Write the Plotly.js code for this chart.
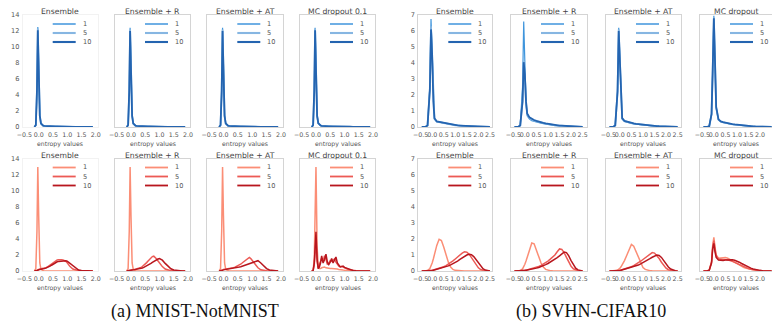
<!DOCTYPE html>
<html><head><meta charset="utf-8">
<script src="https://cdn.plot.ly/plotly-3.0.1.min.js"></script>
<style>html,body{margin:0;padding:0;background:#fff}#chart{width:772px;height:325px}</style>
</head><body><div id="chart"></div>
<script>
// ---------- labels ----------
const panelTitlesA = ['Ensemble', 'Ensemble + R', 'Ensemble + AT', 'MC dropout 0.1'];
const panelTitlesB = ['Ensemble', 'Ensemble + R', 'Ensemble + AT', 'MC dropout'];
const seriesNames = ['1', '5', '10'];
const captions = ['(a) MNIST-NotMNIST', '(b) SVHN-CIFAR10'];
const xAxisLabel = 'entropy values';
const xTicksA = [-0.5, 0, 0.5, 1, 1.5, 2];
const xTicksB = [-0.5, 0, 0.5, 1, 1.5, 2, 2.5];
const yTicksA = [0, 2, 4, 6, 8, 10, 12, 14];
const yTicksB = [0, 1, 2, 3, 4, 5, 6, 7];

// ---------- entropy grids ----------
const entropyA = [-0.15,-0.1,-0.06,-0.03,0, 0.04,0.08,0.12,0.16,0.2, 0.25,0.3,0.35,0.4,0.45, 0.5,0.55,0.6,0.65,0.7,
                  0.75,0.8,0.85,0.9,0.95, 1.0,1.1,1.2,1.3,1.4, 1.5,1.6,1.7,1.8,1.9];
const entropyB = [-0.45,-0.3,-0.2,-0.1,-0.05, 0,0.05,0.1,0.2,0.3, 0.4,0.5,0.6,0.7,0.8, 0.9,1.0,1.1,1.2,1.3,
                  1.4,1.5,1.6,1.7,1.8, 1.9,2.0,2.1,2.2,2.3, 2.4,2.5];

// ---------- (a) MNIST (in-distribution, top row); densities for ensemble size 1, 5, 10 ----------
const aInEns = [
  [0,0.2,4,12.5,8, 1.5,0.4,0.2,0.15,0.12, 0.1,0.09,0.08,0.08,0.07, 0.07,0.06,0.06,0.05,0.05, 0.05,0.04,0.04,0.04,0.03, 0.03,0.03,0.02,0.02,0.02, 0.01,0.01,0.01,0,0],
  [0,0.2,4.3,12.3,7.6, 1.4,0.4,0.2,0.15,0.12, 0.1,0.09,0.08,0.08,0.07, 0.07,0.06,0.06,0.05,0.05, 0.05,0.04,0.04,0.04,0.03, 0.03,0.03,0.02,0.02,0.02, 0.01,0.01,0.01,0,0],
  [0,0.25,4.6,12.1,7.3, 1.4,0.45,0.22,0.16,0.13, 0.11,0.1,0.09,0.08,0.08, 0.07,0.07,0.06,0.06,0.05, 0.05,0.05,0.04,0.04,0.04, 0.03,0.03,0.02,0.02,0.02, 0.01,0.01,0.01,0,0]
];
const aInEnsR = [
  [0,0.2,4,12.4,8, 1.5,0.4,0.2,0.15,0.12, 0.1,0.09,0.08,0.08,0.07, 0.07,0.06,0.06,0.05,0.05, 0.05,0.04,0.04,0.04,0.03, 0.03,0.03,0.02,0.02,0.02, 0.01,0.01,0.01,0,0],
  [0,0.2,4.3,12.2,7.6, 1.4,0.4,0.2,0.15,0.12, 0.1,0.09,0.08,0.08,0.07, 0.07,0.06,0.06,0.05,0.05, 0.05,0.04,0.04,0.04,0.03, 0.03,0.03,0.02,0.02,0.02, 0.01,0.01,0.01,0,0],
  [0,0.25,4.6,12.0,7.3, 1.4,0.45,0.22,0.16,0.13, 0.11,0.1,0.09,0.08,0.08, 0.07,0.07,0.06,0.06,0.05, 0.05,0.05,0.04,0.04,0.04, 0.03,0.03,0.02,0.02,0.02, 0.01,0.01,0.01,0,0]
];
const aInEnsAT = [
  [0,0.2,4,12.4,8, 1.5,0.4,0.2,0.15,0.12, 0.1,0.09,0.08,0.08,0.07, 0.07,0.06,0.06,0.05,0.05, 0.05,0.04,0.04,0.04,0.03, 0.03,0.03,0.02,0.02,0.02, 0.01,0.01,0.01,0,0],
  [0,0.2,4.3,12.2,7.6, 1.4,0.4,0.2,0.15,0.12, 0.1,0.09,0.08,0.08,0.07, 0.07,0.06,0.06,0.05,0.05, 0.05,0.04,0.04,0.04,0.03, 0.03,0.03,0.02,0.02,0.02, 0.01,0.01,0.01,0,0],
  [0,0.25,4.6,12.0,7.3, 1.4,0.45,0.22,0.16,0.13, 0.11,0.1,0.09,0.08,0.08, 0.07,0.07,0.06,0.06,0.05, 0.05,0.05,0.04,0.04,0.04, 0.03,0.03,0.02,0.02,0.02, 0.01,0.01,0.01,0,0]
];
const aInMC = [
  [0,0.2,4,12.4,8, 1.5,0.45,0.25,0.18,0.14, 0.12,0.1,0.09,0.08,0.08, 0.07,0.07,0.06,0.06,0.05, 0.05,0.05,0.04,0.04,0.04, 0.03,0.03,0.02,0.02,0.02, 0.01,0.01,0.01,0,0],
  [0,0.2,4.3,12.3,7.6, 1.4,0.45,0.25,0.18,0.14, 0.12,0.1,0.09,0.08,0.08, 0.07,0.07,0.06,0.06,0.05, 0.05,0.05,0.04,0.04,0.04, 0.03,0.03,0.02,0.02,0.02, 0.01,0.01,0.01,0,0],
  [0,0.25,4.6,12.1,7.3, 1.4,0.5,0.26,0.19,0.15, 0.12,0.11,0.1,0.09,0.08, 0.08,0.07,0.07,0.06,0.06, 0.05,0.05,0.05,0.04,0.04, 0.04,0.03,0.03,0.02,0.02, 0.01,0.01,0.01,0,0]
];
// ---------- (a) NotMNIST (out-of-distribution, bottom row) ----------
const aOutEns = [
  [0,0.3,5,13,7, 1,0.2,0.05,0.02,0.01, 0,0,0,0,0, 0,0,0,0,0, 0,0,0,0,0, 0,0,0,0,0, 0,0,0,0,0],
  [0,0.02,0.08,0.15,0.2, 0.25,0.3,0.32,0.33,0.35, 0.4,0.5,0.62,0.75,0.9, 1.05,1.2,1.3,1.38,1.42, 1.44,1.42,1.38,1.33,1.22, 1.02,0.55,0.25,0.1,0.04, 0.02,0.01,0,0,0],
  [0,0.01,0.05,0.1,0.15, 0.2,0.25,0.28,0.3,0.32, 0.36,0.42,0.5,0.6,0.72, 0.85,0.98,1.08,1.15,1.2, 1.23,1.25,1.27,1.28,1.27, 1.22,0.95,0.6,0.3,0.12, 0.05,0.02,0.01,0,0]
];
const aOutEnsR = [
  [0,0.3,5,13,7, 1,0.2,0.05,0.02,0.01, 0,0,0,0,0, 0,0,0,0,0, 0,0,0,0,0, 0,0,0,0,0, 0,0,0,0,0],
  [0,0.02,0.06,0.1,0.13, 0.16,0.18,0.2,0.22,0.25, 0.3,0.36,0.45,0.56,0.7, 0.86,1.05,1.25,1.45,1.65, 1.8,1.85,1.7,1.5,1.25, 1.0,0.55,0.25,0.1,0.04, 0.02,0.01,0,0,0],
  [0,0.01,0.04,0.07,0.1, 0.12,0.14,0.16,0.18,0.2, 0.23,0.27,0.32,0.38,0.45, 0.53,0.62,0.72,0.83,0.95, 1.08,1.2,1.32,1.43,1.5, 1.56,1.35,0.95,0.55,0.28, 0.13,0.06,0.03,0.01,0]
];
const aOutEnsAT = [
  [0,0.3,5,13,7, 1,0.2,0.05,0.02,0.01, 0,0,0,0,0, 0,0,0,0,0, 0,0,0,0,0, 0,0,0,0,0, 0,0,0,0,0],
  [0,0.02,0.08,0.14,0.18, 0.2,0.22,0.24,0.26,0.28, 0.32,0.36,0.42,0.48,0.56, 0.65,0.75,0.87,1.0,1.13, 1.28,1.45,1.62,1.7,1.55, 1.3,0.8,0.4,0.15,0.05, 0.02,0.01,0,0,0],
  [0,0.01,0.05,0.1,0.14, 0.16,0.18,0.2,0.22,0.24, 0.26,0.29,0.32,0.36,0.4, 0.44,0.49,0.54,0.6,0.66, 0.72,0.78,0.84,0.9,0.96, 1.02,1.15,1.29,1.0,0.6, 0.3,0.12,0.05,0.02,0]
];
const aOutMC = [
  [0,0.1,1.5,6,13, 3,0.6,0.3,0.3,0.4, 0.5,0.5,0.4,0.35,0.3, 0.3,0.3,0.3,0.3,0.3, 0.25,0.2,0.2,0.15,0.12, 0.1,0.06,0.03,0.02,0.01, 0,0,0,0,0],
  [0,0.05,0.8,2.8,3.8, 1.2,0.3,0.8,1.3,1.6, 1.2,1.9,1.5,0.8,1.0, 1.3,1.2,1.4,1.5,1.1, 0.8,0.6,0.55,0.6,0.5, 0.4,0.25,0.12,0.06,0.03, 0.01,0,0,0,0],
  [0,0.05,1.0,3.5,4.9, 1.5,0.3,0.5,1.0,1.9, 1.0,1.4,2.1,1.1,0.8, 1.1,1.55,1.0,1.3,1.75, 1.0,0.75,0.5,0.55,0.62, 0.45,0.3,0.15,0.07,0.03, 0.01,0,0,0,0]
];

// ---------- (b) SVHN (in-distribution, top row) ----------
const bInEns = [
  [0,0,0.1,2.5,6.75, 4.5,1.5,0.5,0.33,0.3, 0.25,0.22,0.2,0.18,0.15, 0.13,0.11,0.1,0.08,0.07, 0.06,0.05,0.04,0.04,0.03, 0.03,0.02,0.02,0.01,0.01, 0,0],
  [0,0,0.1,2.4,6.3, 4.4,1.5,0.5,0.33,0.3, 0.25,0.22,0.2,0.18,0.15, 0.13,0.11,0.1,0.08,0.07, 0.06,0.05,0.04,0.04,0.03, 0.03,0.02,0.02,0.01,0.01, 0,0],
  [0,0,0.1,2.3,6.1, 4.5,1.6,0.55,0.35,0.32, 0.27,0.24,0.21,0.19,0.16, 0.14,0.12,0.1,0.09,0.08, 0.07,0.06,0.05,0.04,0.03, 0.03,0.02,0.02,0.01,0.01, 0,0]
];
const bInEnsR = [
  [0,0,0.1,2.5,6.6, 4.0,1.5,0.7,0.5,0.4, 0.35,0.3,0.27,0.24,0.21, 0.18,0.15,0.13,0.11,0.09, 0.08,0.07,0.06,0.05,0.04, 0.03,0.03,0.02,0.02,0.01, 0,0],
  [0,0,0.1,1.6,4.1, 3.2,1.5,0.8,0.55,0.45, 0.4,0.35,0.3,0.27,0.24, 0.21,0.18,0.15,0.13,0.11, 0.09,0.08,0.07,0.06,0.05, 0.04,0.03,0.02,0.02,0.01, 0,0],
  [0,0,0.1,1.6,4.05, 3.3,1.6,0.85,0.6,0.5, 0.44,0.38,0.33,0.29,0.26, 0.23,0.2,0.17,0.15,0.13, 0.11,0.09,0.08,0.07,0.06, 0.05,0.04,0.03,0.02,0.01, 0,0]
];
const bInEnsAT = [
  [0,0,0.1,2.3,6.2, 4.0,1.3,0.5,0.35,0.3, 0.26,0.23,0.2,0.18,0.16, 0.14,0.12,0.1,0.09,0.08, 0.07,0.06,0.05,0.04,0.03, 0.03,0.02,0.02,0.01,0.01, 0,0],
  [0,0,0.1,2.2,6.1, 4.0,1.35,0.52,0.36,0.31, 0.27,0.24,0.21,0.19,0.17, 0.15,0.13,0.11,0.09,0.08, 0.07,0.06,0.05,0.04,0.03, 0.03,0.02,0.02,0.01,0.01, 0,0],
  [0,0,0.1,2.2,6.0, 4.1,1.4,0.55,0.38,0.33, 0.28,0.25,0.22,0.2,0.18, 0.16,0.14,0.12,0.1,0.09, 0.08,0.07,0.06,0.05,0.04, 0.03,0.02,0.02,0.01,0.01, 0,0]
];
const bInMC = [
  [0,0,0.05,0.8,3.5, 6.95,4.0,1.2,0.45,0.33, 0.28,0.24,0.2,0.18,0.16, 0.14,0.12,0.1,0.08,0.07, 0.06,0.05,0.04,0.03,0.03, 0.02,0.02,0.01,0.01,0, 0,0],
  [0,0,0.05,0.8,3.5, 6.85,4.0,1.2,0.46,0.34, 0.29,0.25,0.21,0.19,0.17, 0.15,0.13,0.11,0.09,0.08, 0.07,0.06,0.05,0.04,0.03, 0.02,0.02,0.01,0.01,0, 0,0],
  [0,0,0.05,0.8,3.6, 6.8,4.1,1.25,0.48,0.35, 0.3,0.26,0.22,0.2,0.18, 0.16,0.14,0.12,0.1,0.08, 0.07,0.06,0.05,0.04,0.03, 0.02,0.02,0.01,0.01,0, 0,0]
];
// ---------- (b) CIFAR10 (out-of-distribution, bottom row) ----------
const bOutEns = [
  [0,0,0.02,0.15,0.3, 0.5,0.75,1.05,1.6,1.98, 1.9,1.5,1.0,0.55,0.25, 0.1,0.04,0.02,0.01,0, 0,0,0,0,0, 0,0,0,0,0, 0,0],
  [0,0,0,0.01,0.02, 0.04,0.06,0.08,0.12,0.16, 0.21,0.27,0.34,0.42,0.52, 0.63,0.75,0.88,1.0,1.12, 1.2,1.18,1.05,0.85,0.6, 0.38,0.2,0.09,0.04,0.01, 0,0],
  [0,0,0,0.01,0.02, 0.03,0.05,0.07,0.1,0.13, 0.17,0.21,0.26,0.32,0.38, 0.45,0.53,0.62,0.72,0.82, 0.92,1.0,1.05,1.02,0.9, 0.7,0.48,0.28,0.14,0.06, 0.02,0]
];
const bOutEnsR = [
  [0,0,0.02,0.13,0.25, 0.42,0.62,0.85,1.35,1.75, 1.7,1.35,0.9,0.5,0.24, 0.1,0.04,0.02,0.01,0, 0,0,0,0,0, 0,0,0,0,0, 0,0],
  [0,0,0,0.01,0.02, 0.03,0.05,0.07,0.1,0.13, 0.17,0.22,0.28,0.35,0.43, 0.52,0.62,0.74,0.87,1.0, 1.2,1.38,1.35,1.15,0.85, 0.55,0.3,0.14,0.06,0.02, 0,0],
  [0,0,0,0.01,0.02, 0.03,0.04,0.06,0.08,0.11, 0.14,0.18,0.22,0.27,0.33, 0.4,0.47,0.55,0.64,0.74, 0.84,0.95,1.07,1.18,1.15, 0.95,0.65,0.38,0.18,0.07, 0.02,0]
];
const bOutEnsAT = [
  [0,0,0.01,0.05,0.1, 0.17,0.26,0.37,0.65,0.98, 1.35,1.66,1.55,1.2,0.8, 0.45,0.22,0.1,0.04,0.02, 0.01,0,0,0,0, 0,0,0,0,0, 0,0],
  [0,0,0,0.01,0.02, 0.04,0.06,0.08,0.12,0.16, 0.21,0.27,0.34,0.42,0.51, 0.61,0.72,0.84,0.96,1.07, 1.15,1.12,0.98,0.78,0.55, 0.34,0.18,0.08,0.03,0.01, 0,0],
  [0,0,0,0.01,0.02, 0.03,0.05,0.07,0.1,0.13, 0.17,0.21,0.26,0.31,0.37, 0.44,0.51,0.59,0.68,0.77, 0.86,0.94,1.0,0.97,0.85, 0.65,0.44,0.25,0.12,0.05, 0.02,0]
];
const bOutMC = [
  [0,0,0.05,0.6,1.6, 2.1,1.5,1.0,0.8,0.82, 0.85,0.85,0.8,0.72,0.62, 0.52,0.43,0.35,0.28,0.22, 0.17,0.13,0.1,0.07,0.05, 0.03,0.02,0.01,0,0, 0,0],
  [0,0,0.05,0.55,1.5, 1.9,1.35,0.95,0.75,0.72, 0.72,0.72,0.7,0.66,0.6, 0.53,0.46,0.39,0.32,0.26, 0.2,0.15,0.11,0.08,0.05, 0.03,0.02,0.01,0,0, 0,0],
  [0,0,0.05,0.5,1.4, 1.73,1.2,0.85,0.68,0.65, 0.66,0.68,0.7,0.71,0.7, 0.67,0.62,0.55,0.47,0.39, 0.31,0.24,0.18,0.13,0.09, 0.06,0.04,0.02,0.01,0, 0,0]
];

// ---------- styles ----------
const W = 772, H = 325;
const blueColors = ['#3f95dc', '#86b6e2', '#2464b0'];
const blueWidths = [1.2, 1.8, 1.8];
const redColors = ['#fb8e76', '#ec5a55', '#b8161e'];
const redWidths = [1.5, 1.5, 1.5];
const textColor = '#555555';
const fontFam = 'DejaVu Sans, sans-serif';
const tickSize = 6.3;
const labelSize = 6.2;
const titleSize = 7.7;

// panel pixel boxes [left, right] and rows [top, bottom]
const colsA = [[22.7, 97.7], [115, 190], [207.3, 283], [300, 375]];
const colsB = [[418.3, 492], [511, 587], [606, 680.5], [700, 772]];
const rowsPx = [[15, 127], [159, 271]];
const rangeA = [-0.56, 2.07];
const rangeB = [-0.6, 2.59];

const groups = [
  {grid: entropyA, cols: colsA, titles: panelTitlesA, ticks: xTicksA, yticks: yTicksA, yr: [0, 14],
   rows: [[aInEns, aInEnsR, aInEnsAT, aInMC], [aOutEns, aOutEnsR, aOutEnsAT, aOutMC]]},
  {grid: entropyB, cols: colsB, titles: panelTitlesB, ticks: xTicksB, yticks: yTicksB, yr: [0, 7],
   rows: [[bInEns, bInEnsR, bInEnsAT, bInMC], [bOutEns, bOutEnsR, bOutEnsAT, bOutMC]]}
];

const traces = [];
const layout = {
  width: W, height: H, margin: {l: 0, r: 0, t: 0, b: 0},
  paper_bgcolor: '#ffffff', plot_bgcolor: '#ffffff',
  font: {family: fontFam, size: tickSize, color: textColor},
  showlegend: false, annotations: [], shapes: []
};

let k = 0;
for (let r = 0; r < 2; r++) {
  for (let g = 0; g < 2; g++) {
    const G = groups[g];
    for (let p = 0; p < 4; p++) {
      k++;
      const xa = 'x' + (k === 1 ? '' : k), ya = 'y' + (k === 1 ? '' : k);
      const xKey = 'xaxis' + (k === 1 ? '' : k), yKey = 'yaxis' + (k === 1 ? '' : k);
      const [L, R] = G.cols[p];
      const [T, B] = rowsPx[r];
      const colors = r === 0 ? blueColors : redColors;
      const widths = r === 0 ? blueWidths : redWidths;
      const data = G.rows[r][p];
      for (let s = 0; s < 3; s++) {
        traces.push({
          x: G.grid, y: data[s], xaxis: xa, yaxis: ya, type: 'scatter', mode: 'lines',
          name: seriesNames[s], line: {color: colors[s], width: widths[s]}, hoverinfo: 'skip'
        });
      }
      let xr = g === 0 ? rangeA.slice() : rangeB.slice();
      if (g === 1) {
        const pxPerUnit = (colsB[0][1] - colsB[0][0]) / (rangeB[1] - rangeB[0]);
        xr = [rangeB[0], rangeB[0] + (R - L) / pxPerUnit];
      }
      const frameColor = (g === 0 && p === 0) ? '#f2f2f2' : '#d4d4d4';
      layout[xKey] = {
        domain: [L / W, R / W], anchor: ya, range: xr,
        tickvals: G.ticks, ticktext: G.ticks.map(v => (v < 0 ? '\u2212' : '') + Math.abs(v).toFixed(1)),
        tickangle: 0, automargin: false,
        showgrid: false, zeroline: false, showline: true, mirror: true, linecolor: frameColor, linewidth: 1,
        ticks: '', ticklabelstandoff: 1, tickfont: {size: tickSize, color: textColor, family: fontFam},
        fixedrange: true
      };
      layout[yKey] = {
        domain: [1 - B / H, 1 - T / H], anchor: xa, range: G.yr, automargin: false,
        tickvals: G.yticks, showticklabels: p === 0, ticklabelstandoff: 1,
        showgrid: false, zeroline: false, showline: true, mirror: true, linecolor: frameColor, linewidth: 1,
        ticks: '', tickfont: {size: tickSize + 0.3, color: textColor, family: fontFam}, fixedrange: true
      };
      // subplot title
      layout.annotations.push({
        text: G.titles[p], xref: 'paper', yref: 'paper', x: (L + R) / 2 / W, y: 1 - (T - 4) / H,
        xanchor: 'center', yanchor: 'middle', showarrow: false,
        font: {size: titleSize, color: '#444444', family: fontFam}
      });
      // x-axis label
      layout.annotations.push({
        text: xAxisLabel, xref: 'paper', yref: 'paper', x: (L + R) / 2 / W, y: 1 - (B + 16.5) / H,
        xanchor: 'center', yanchor: 'middle', showarrow: false,
        font: {size: labelSize, color: textColor, family: fontFam}
      });
      // legend (line samples + labels)
      const legRows = r === 0 ? [9, 18, 27] : [8.5, 17.5, 26.5];
      for (let s = 0; s < 3; s++) {
        const yy = 1 - (T + legRows[s]) / H;
        layout.shapes.push({
          type: 'line', xref: 'paper', yref: 'paper',
          x0: (L + 30) / W, x1: (L + 53) / W, y0: yy, y1: yy,
          line: {color: colors[s], width: widths[s] + 0.3}
        });
        layout.annotations.push({
          text: seriesNames[s], xref: 'paper', yref: 'paper', x: (L + 58) / W, y: yy,
          xanchor: 'left', yanchor: 'middle', showarrow: false,
          font: {size: tickSize + 0.3, color: textColor, family: fontFam}
        });
      }
    }
  }
}
// captions
const capX = [195, 591];
captions.forEach((c, i) => layout.annotations.push({
  text: c, xref: 'paper', yref: 'paper', x: capX[i] / W, y: 1 - 311 / H,
  xanchor: 'center', yanchor: 'middle', showarrow: false,
  font: {size: 18, color: '#111111', family: 'Liberation Serif, serif'}
}));

Plotly.newPlot('chart', traces, layout, {staticPlot: true, displayModeBar: false});
</script>
</body></html>
